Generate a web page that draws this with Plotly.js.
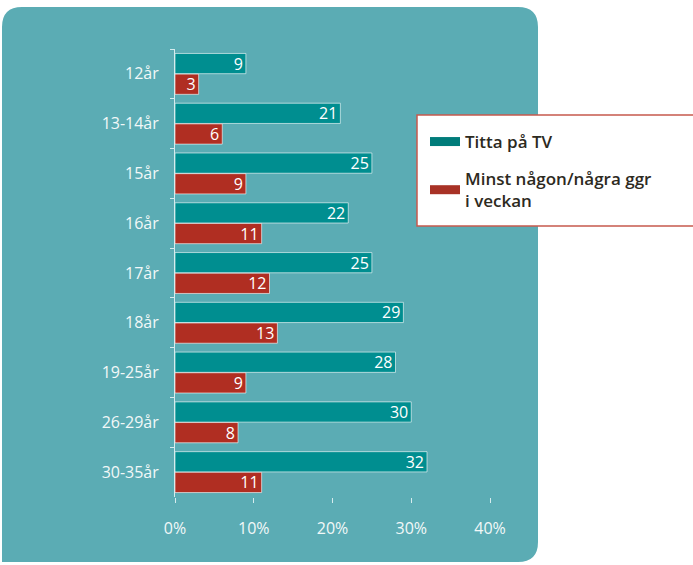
<!DOCTYPE html>
<html>
<head>
<meta charset="utf-8">
<script src="https://cdn.plot.ly/plotly-3.0.1.min.js"></script>
<style>html,body{margin:0;padding:0;background:#fff;}#chart{width:693px;height:565px;}</style>
</head>
<body>
<div id="chart"></div>
<script>
const categories = ["12år","13-14år","15år","16år","17år","18år","19-25år","26-29år","30-35år"];
const tvValues = [9,21,25,22,25,29,28,30,32];
const weeklyValues = [3,6,9,11,12,13,9,8,11];
const seriesNames = ["Titta på TV","Minst någon/några ggr<br>i veckan"];
const xTickVals = [0,10,20,30,40];
const xTickText = ["0%","10%","20%","30%","40%"];

const tealBar = "#008E90";
const redBar = "#B02E22";
const bg = "#5BACB4";
const labelFont = {family: "Open Sans, Noto Sans, sans-serif", size: 16, color: "#F2F8F8"};

// pixel helpers for paper coordinates
const L = 175, R = 490, T = 49, B = 497;
const px = v => (v - L) / (R - L);
const py = v => (B - v) / (B - T);

function barTrace(vals, name, color) {
  return {
    type: "bar", orientation: "h", y: categories, x: vals, name: name,
    showlegend: false,
    marker: {color: color, line: {color: "rgba(255,255,255,0.6)", width: 1}},
    text: vals.map(String), textposition: "inside", insidetextanchor: "end", textangle: 0,
    textfont: {family: "Open Sans, Noto Sans, sans-serif", size: 16, color: "#FFFFFF"},
    constraintext: "none", hoverinfo: "skip"
  };
}
function legendTrace(name, color, group) {
  return {type: "scatter", mode: "lines", x: [null], y: [null], name: name, legendgroup: group,
    line: {color: color, width: 9}, showlegend: true, hoverinfo: "skip"};
}

const data = [
  barTrace(tvValues, seriesNames[0], tealBar),
  barTrace(weeklyValues, seriesNames[1], redBar),
  legendTrace(seriesNames[0], "#007C7A", "a"),
  legendTrace(seriesNames[1], "#A83226", "b")
];

const x0 = px(2), x1 = px(538), y0 = py(7), y1 = py(575);
const rx = 20 / (R - L), ry = 20 / (B - T);
const bgPath = `M ${x0} ${y0 - ry} Q ${x0} ${y0} ${x0 + rx} ${y0} L ${x1 - rx} ${y0} Q ${x1} ${y0} ${x1} ${y0 - ry} ` +
  `L ${x1} ${py(562) + ry} Q ${x1} ${py(562)} ${x1 - rx} ${py(562)} L ${x0} ${py(562)} L ${x0} ${y1} Z`;

const layout = {
  width: 693, height: 565,
  margin: {l: L, r: 693 - R, t: T, b: 565 - B, pad: 0},
  paper_bgcolor: "#FFFFFF", plot_bgcolor: "#FFFFFF",
  barmode: "group", bargap: 0.17, bargroupgap: 0.02,
  showlegend: true,
  xaxis: {range: [0, 40], tickvals: xTickVals, ticktext: xTickText, showgrid: false, zeroline: false,
    ticks: "outside", ticklen: 5, tickcolor: "#D6ECEE", tickfont: labelFont,
    ticklabelstandoff: 12, showline: false, fixedrange: true},
  yaxis: {type: "category", autorange: "reversed", showgrid: false, zeroline: false,
    ticks: "outside", ticklen: 4, tickcolor: "#D6ECEE", tickson: "boundaries",
    tickfont: labelFont, ticklabelstandoff: 12, showline: true, linecolor: "#D6ECEE", linewidth: 1, fixedrange: true},
  legend: {x: px(425), y: py(124), xanchor: "left", yanchor: "top", bgcolor: "rgba(0,0,0,0)",
    borderwidth: 0, font: {family: "Open Sans, Noto Sans, sans-serif", size: 17, color: "#2D2A1E", weight: 600},
    itemwidth: 30, tracegroupgap: 12, traceorder: "grouped"},
  shapes: [
    {type: "path", xref: "paper", yref: "paper", path: bgPath, fillcolor: bg, line: {width: 0}, layer: "below"},
    {type: "rect", xref: "paper", yref: "paper", x0: px(417), x1: px(720), y0: py(115), y1: py(226),
      fillcolor: "#FFFFFF", line: {color: "#C65A4E", width: 1.5}, layer: "above"}
  ]
};

Plotly.newPlot("chart", data, layout, {displayModeBar: false, staticPlot: true});
</script>
</body>
</html>
